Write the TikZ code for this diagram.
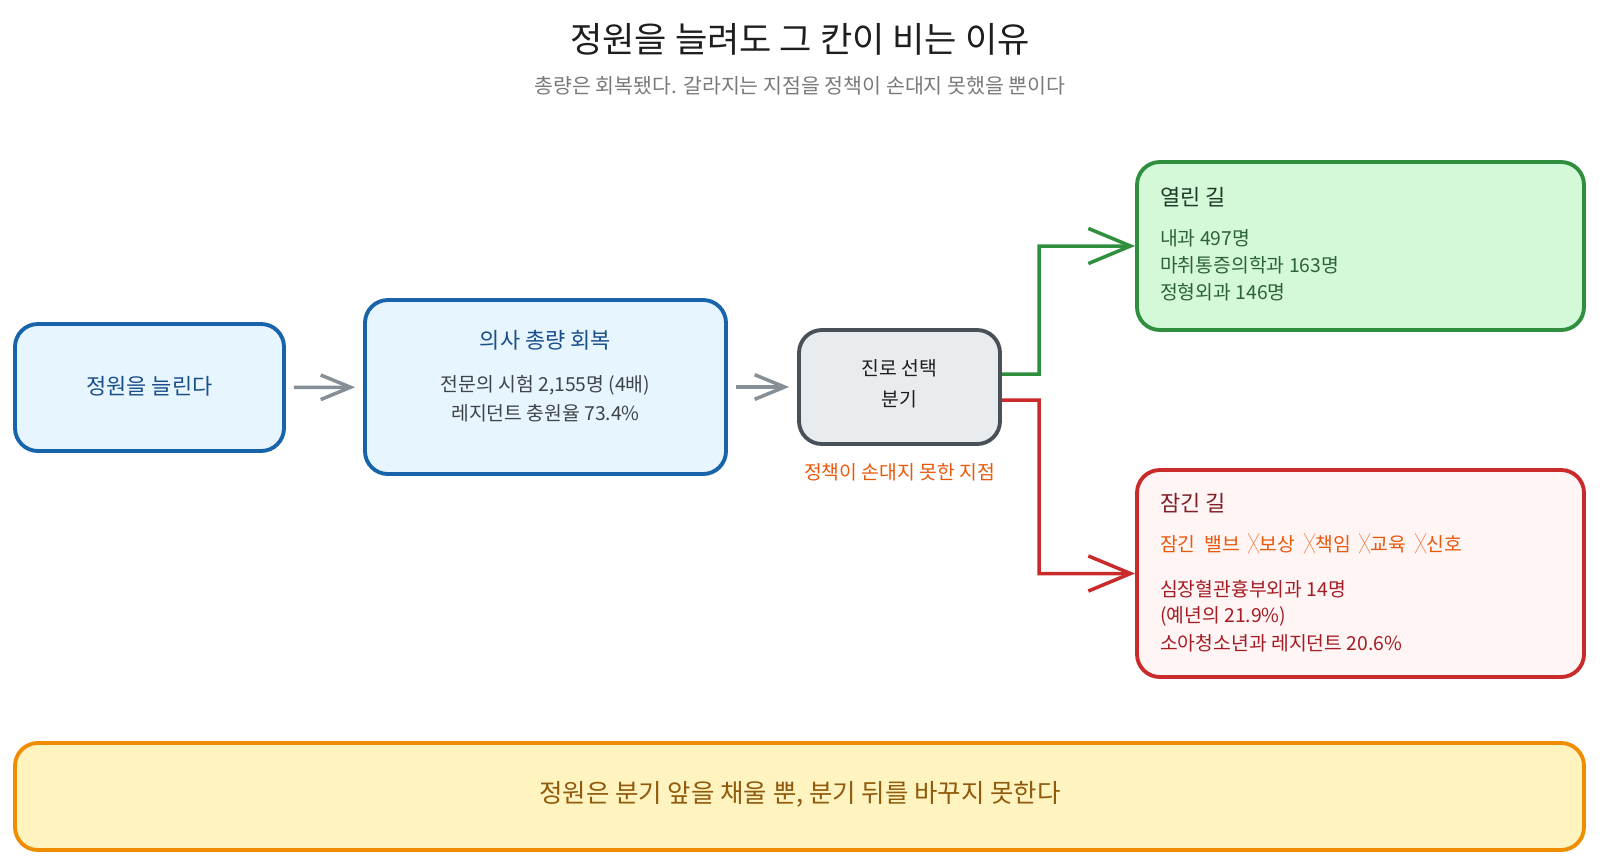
\documentclass[tikz,border=0pt]{standalone}
\usepackage{fontspec}
\setmainfont{Noto Sans CJK KR}
\usetikzlibrary{arrows.meta}
\definecolor{titlegray}{HTML}{1E1E1E}
\definecolor{subgray}{HTML}{7A7A7A}
\definecolor{bluefill}{HTML}{E7F5FF}
\definecolor{blueline}{HTML}{1864AB}
\definecolor{bluetext}{HTML}{1A4F8B}
\definecolor{bodygray}{HTML}{3F4449}
\definecolor{arrowgray}{HTML}{868E96}
\definecolor{grayfill}{HTML}{E9ECEF}
\definecolor{grayline}{HTML}{495057}
\definecolor{branchorange}{HTML}{E8590C}
\definecolor{greenfill}{HTML}{D3F9D8}
\definecolor{greenline}{HTML}{2F8F3E}
\definecolor{greentext}{HTML}{2D6139}
\definecolor{greentitle}{HTML}{1F3A27}
\definecolor{redfill}{HTML}{FFF5F5}
\definecolor{redline}{HTML}{C92A2A}
\definecolor{redtext}{HTML}{A51D24}
\definecolor{redtitle}{HTML}{7E2126}
\definecolor{yellowfill}{HTML}{FFF3BF}
\definecolor{yellowline}{HTML}{F08C00}
\definecolor{yellowtext}{HTML}{8F5A0C}
\newcommand{\nocross}{\hspace{0.45em}\scalebox{0.58}[1.05]{╳}}
\tikzset{
  box/.style={draw, rounded corners=13pt, line width=2.2pt, inner sep=0pt},
  flow/.style={arrowgray, line width=2pt, -{Straight Barb[length=17pt,width=14pt]}, shorten <=4.5pt, shorten >=4.5pt},
  branch/.style={line width=2pt, rounded corners=0pt, -{Straight Barb[length=24pt,width=20pt]}},
  body/.style={font=\fontsize{11}{13}\selectfont},
  head/.style={font=\fontsize{12.5}{15}\selectfont}
}
\begin{document}
\begin{tikzpicture}[x=0.02cm,y=-0.02cm]
  \useasboundingbox (0,0) rectangle (1600,867);
  \node[titlegray, font=\fontsize{20}{24}\selectfont] (title) at (800,39) {정원을 늘려도 그 칸이 비는 이유};
  \node[subgray, font=\fontsize{11.7}{14}\selectfont] (sub) at (800,86) {총량은 회복됐다. 갈라지는 지점을 정책이 손대지 못했을 뿐이다};

  \node[box, draw=blueline, fill=bluefill, minimum width=269*0.02cm, minimum height=127*0.02cm] (raise) at (149.5,387.5) {};
  \node[head, bluetext] (raiset) at (149.5,386) {정원을 늘린다};

  \node[box, draw=blueline, fill=bluefill, minimum width=361*0.02cm, minimum height=174*0.02cm] (total) at (545.5,387) {};
  \node[head, bluetext] (totalt) at (545.5,340) {의사 총량 회복};
  \node[body, bodygray] (total1) at (545.5,385) {전문의 시험 2,155명 (4배)};
  \node[body, bodygray] (total2) at (545.5,413) {레지던트 충원율 73.4\%};

  \node[box, draw=grayline, fill=grayfill, minimum width=201*0.02cm, minimum height=114*0.02cm] (fork) at (899.5,387) {};
  \node[body, titlegray] (fork1) at (899.5,368) {진로 선택};
  \node[body, titlegray] (fork2) at (899.5,399) {분기};
  \node[body, branchorange] (forkl) at (899.5,472) {정책이 손대지 못한 지점};

  \node[box, draw=greenline, fill=greenfill, minimum width=447*0.02cm, minimum height=168*0.02cm] (open) at (1360.5,246) {};
  \node[head, greentitle, anchor=west] (opent) at (1154,197) {열린 길};
  \node[body, greentext, anchor=west] (open1) at (1154,238) {내과 497명};
  \node[body, greentext, anchor=west] (open2) at (1154,265) {마취통증의학과 163명};
  \node[body, greentext, anchor=west] (open3) at (1154,292) {정형외과 146명};

  \node[box, draw=redline, fill=redfill, minimum width=447*0.02cm, minimum height=207*0.02cm] (shut) at (1360.5,573.5) {};
  \node[head, redtitle, anchor=west] (shutt) at (1154,503) {잠긴 길};
  \node[body, branchorange, anchor=west] (shutv) at (1154,544) {잠긴\ \ 밸브\nocross 보상\nocross 책임\nocross 교육\nocross 신호};
  \node[body, redtext, anchor=west] (shut1) at (1154,589) {심장혈관흉부외과 14명};
  \node[body, redtext, anchor=west] (shut2) at (1154,616) {(예년의 21.9\%)};
  \node[body, redtext, anchor=west] (shut3) at (1154,643) {소아청소년과 레지던트 20.6\%};

  \node[box, draw=yellowline, fill=yellowfill, minimum width=1569*0.02cm, minimum height=107*0.02cm] (note) at (799.5,796.5) {};
  \node[yellowtext, font=\fontsize{14.5}{17}\selectfont] (notet) at (800,794) {정원은 분기 앞을 채울 뿐, 분기 뒤를 바꾸지 못한다};

  \draw[flow] (raise) -- (total);
  \draw[flow] (total) -- (fork);
  \draw[branch, greenline] ([yshift=0.26cm]fork.east) -- (1039,374) |- (open.west);
  \draw[branch, redline] ([yshift=-0.26cm]fork.east) -- (1039,400) |- (shut.west);
\end{tikzpicture}
\end{document}
